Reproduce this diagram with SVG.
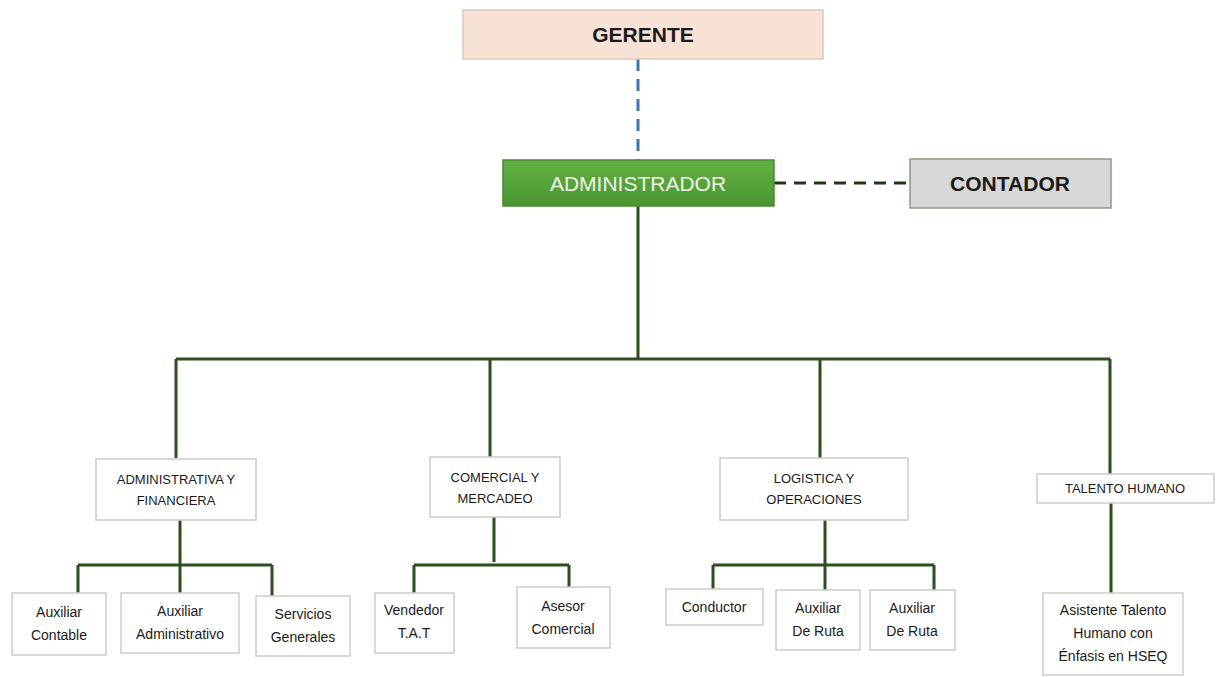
<svg xmlns="http://www.w3.org/2000/svg" width="1217" height="677" viewBox="0 0 1217 677">
<defs>
<linearGradient id="g" x1="0" y1="0" x2="0" y2="1">
<stop offset="0" stop-color="#62b044"/>
<stop offset="1" stop-color="#4c9631"/>
</linearGradient>
<style>
.box{fill:#ffffff;stroke:#c8cec4;stroke-width:1.5}
.t{font-family:"Liberation Sans",Arial,sans-serif;fill:#1a1a1a;text-anchor:middle}
.big{font-size:21px;font-weight:bold}
.dep{font-size:13px}
.sub{font-size:14px}
.ln{stroke:#2b4f1d;stroke-width:3;fill:none}
</style>
</defs>
<rect width="1217" height="677" fill="#ffffff"/>
<g id="connectors">
<line x1="638" y1="59" x2="638" y2="160" stroke="#3b78b0" stroke-width="3" stroke-dasharray="12,8"/>
<line x1="774" y1="183" x2="910" y2="183" stroke="#1e3a14" stroke-width="3" stroke-dasharray="12,8"/>
<path class="ln" d="M638 206V359M176 359H1110M176 359V458M490 359V457M820 359V458M1110 359V474"/>
<path class="ln" d="M180 520V565M78 565H272M78 565V593M180 565V593M272 565V596"/>
<path class="ln" d="M494 517V562M414 565H569M414 565V593M569 565V587"/>
<path class="ln" d="M825 520V565M713 565H934M713 565V589M825 565V590M934 565V590"/>
<path class="ln" d="M1111 503V593"/>
</g>
<g id="gerente">
<rect x="463" y="10" width="360" height="49" fill="#f8e2d5" stroke="#d6cbb8" stroke-width="1.5"/>
<text class="t big" x="643" y="42">GERENTE</text>
</g>
<g id="administrador">
<rect x="503" y="160" width="271" height="46" fill="url(#g)" stroke="#4a8a30" stroke-width="1.5"/>
<text class="t" x="638" y="191" style="font-size:21px;fill:#eef7e6">ADMINISTRADOR</text>
</g>
<g id="contador">
<rect x="910" y="159" width="201" height="49" fill="#d7d7d5" stroke="#8e9a86" stroke-width="1.5"/>
<text class="t big" x="1010" y="191">CONTADOR</text>
</g>
<g id="adm-fin">
<rect class="box" x="96" y="459" width="160" height="61"/>
<text class="t dep" x="176" y="484">ADMINISTRATIVA Y</text>
<text class="t dep" x="176" y="505">FINANCIERA</text>
</g>
<g id="comercial">
<rect class="box" x="430" y="457" width="130" height="60"/>
<text class="t dep" x="495" y="482">COMERCIAL Y</text>
<text class="t dep" x="495" y="503">MERCADEO</text>
</g>
<g id="logistica">
<rect class="box" x="720" y="458" width="188" height="62"/>
<text class="t dep" x="814" y="483">LOGISTICA Y</text>
<text class="t dep" x="814" y="504">OPERACIONES</text>
</g>
<g id="talento">
<rect class="box" x="1037" y="474" width="177" height="29"/>
<text class="t dep" x="1125" y="493">TALENTO HUMANO</text>
</g>
<g id="aux-contable">
<rect class="box" x="12" y="593" width="94" height="62"/>
<text class="t sub" x="59" y="617">Auxiliar</text>
<text class="t sub" x="59" y="640">Contable</text>
</g>
<g id="aux-admin">
<rect class="box" x="121" y="593" width="118" height="60"/>
<text class="t sub" x="180" y="616">Auxiliar</text>
<text class="t sub" x="180" y="639">Administrativo</text>
</g>
<g id="servicios">
<rect class="box" x="256" y="596" width="94" height="60"/>
<text class="t sub" x="303" y="619">Servicios</text>
<text class="t sub" x="303" y="642">Generales</text>
</g>
<g id="vendedor">
<rect class="box" x="375" y="593" width="79" height="60"/>
<text class="t sub" x="414" y="615">Vendedor</text>
<text class="t sub" x="414" y="638">T.A.T</text>
</g>
<g id="asesor">
<rect class="box" x="517" y="587" width="93" height="61"/>
<text class="t sub" x="563" y="611">Asesor</text>
<text class="t sub" x="563" y="634">Comercial</text>
</g>
<g id="conductor">
<rect class="box" x="666" y="589" width="97" height="36"/>
<text class="t sub" x="714" y="612">Conductor</text>
</g>
<g id="aux-ruta-1">
<rect class="box" x="776" y="590" width="84" height="60"/>
<text class="t sub" x="818" y="613">Auxiliar</text>
<text class="t sub" x="818" y="636">De Ruta</text>
</g>
<g id="aux-ruta-2">
<rect class="box" x="870" y="590" width="85" height="60"/>
<text class="t sub" x="912" y="613">Auxiliar</text>
<text class="t sub" x="912" y="636">De Ruta</text>
</g>
<g id="asistente">
<rect class="box" x="1043" y="593" width="140" height="82"/>
<text class="t sub" x="1113" y="615">Asistente Talento</text>
<text class="t sub" x="1113" y="638">Humano con</text>
<text class="t sub" x="1113" y="661">Énfasis en HSEQ</text>
</g>
</svg>
